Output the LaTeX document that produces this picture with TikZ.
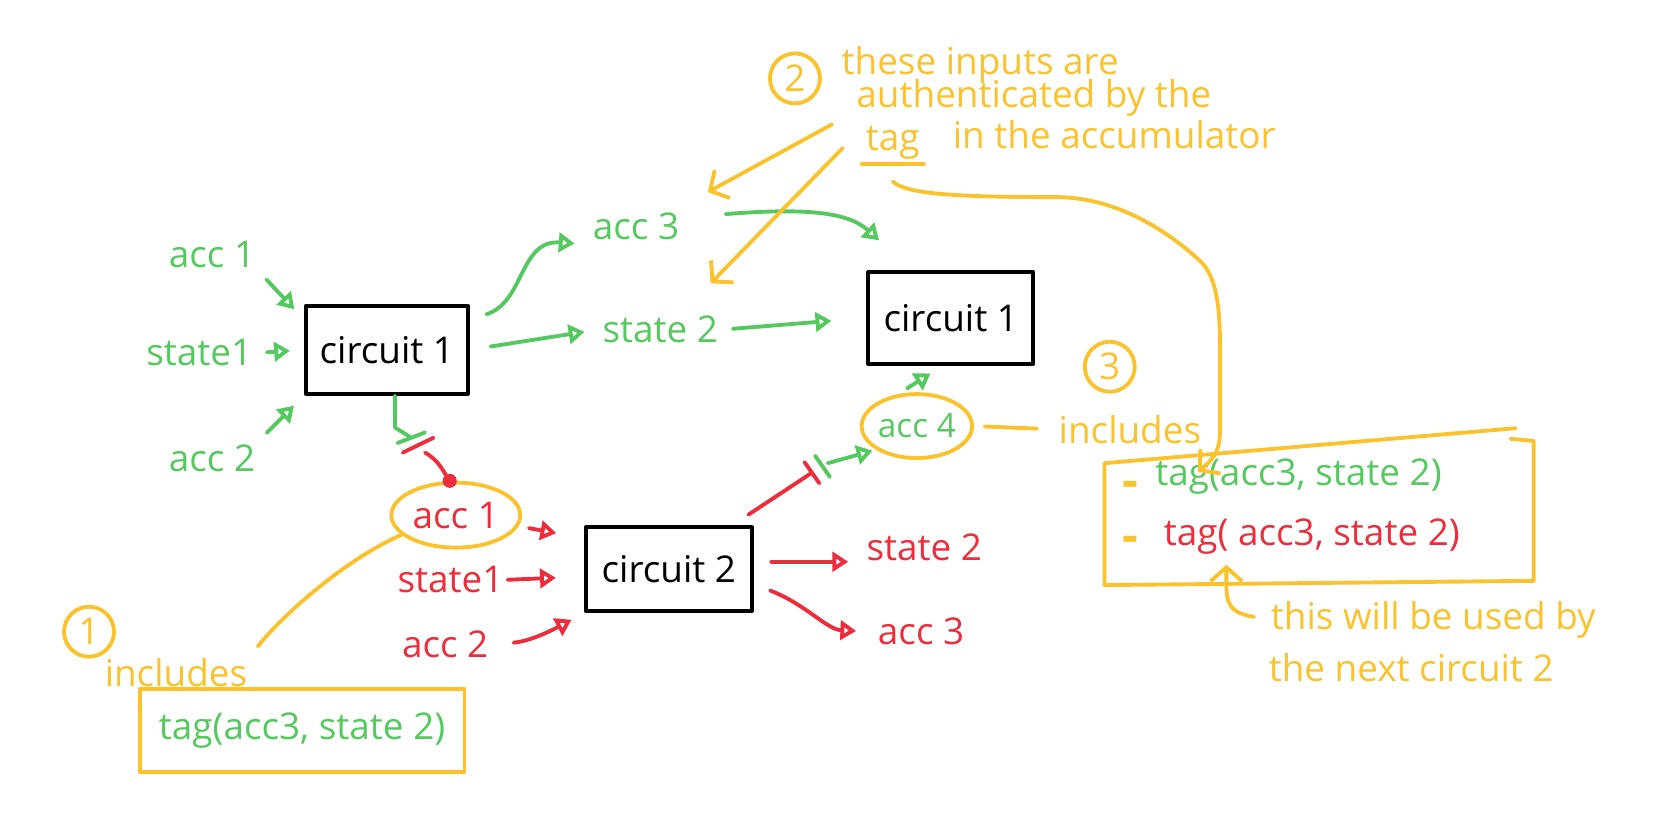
\documentclass[tikz,border=0pt]{standalone}
\usepackage{fontspec}
\setmainfont{Open Sans}
\usetikzlibrary{arrows.meta,shapes.geometric}
\definecolor{pgreen}{RGB}{85,200,95}
\definecolor{pred}{RGB}{235,45,60}
\definecolor{pyellow}{RGB}{250,195,45}
\begin{document}
\begin{tikzpicture}[x=0.0106cm,y=-0.0106cm,
  every node/.style={font=\fontsize{10.5}{12.6}\selectfont,inner sep=1pt},
  pen/.style={line width=1.1pt,line cap=round,line join=round},
  box/.style={draw,pen,minimum width=1.62cm,minimum height=0.88cm},
  bubble/.style={ellipse,draw=pyellow,pen,inner sep=0pt},
  num/.style={circle,draw=pyellow,pen,text=pyellow,minimum size=0.5cm,inner sep=0pt},
  bullet/.style={pyellow,font=\fontsize{14}{14}\selectfont\bfseries},
  garr/.style={pen,pgreen,-{Triangle[open,length=4.5pt,width=5.5pt]},shorten <=3pt,shorten >=4pt},
  rarr/.style={pen,pred,-{Triangle[open,length=4.5pt,width=5.5pt]},shorten <=3pt,shorten >=4pt},
  yarr/.style={pen,pyellow,-{Straight Barb[length=4pt,width=9pt]}},
  yline/.style={pen,pyellow}]
\useasboundingbox (0,0) rectangle (1568,774);

\node[box] (c1) at (365,330) {circuit 1};
\node[box,minimum width=1.65cm,minimum height=0.92cm] (c1b) at (897,300) {circuit 1};
\node[box,minimum width=1.66cm,minimum height=0.84cm] (c2) at (631,537) {circuit 2};

\node[pgreen] (gacc1) at (200,240) {acc 1};
\node[pgreen] (gst1) at (188,333) {state1};
\node[pgreen] (gacc2) at (200,432) {acc 2};
\node[pgreen] (gacc3) at (600,214) {acc 3};
\node[pgreen] (gst2) at (623,311) {state 2};
\node[bubble,text=pgreen,font=\fontsize{9.5}{11}\selectfont,minimum width=1.1cm,minimum height=0.64cm] (gacc4) at (865,402) {acc 4};

\node[bubble,text=pred,minimum width=1.29cm,minimum height=0.65cm] (racc1) at (430,486) {acc 1};
\node[pred] (rst1) at (425,547) {state1};
\node[pred] (racc2) at (420,608) {acc 2};
\node[pred] (rst2) at (872,516) {state 2};
\node[pred] (racc3) at (869,596) {acc 3};

\node[num] (n2) at (750,74) {2};
\node[pyellow,anchor=base west] (t1) at (790,70) {these inputs are};
\node[pyellow,anchor=base west] (t2) at (804,101) {authenticated by the};
\node[pyellow,anchor=base west] (ttag) at (813,142) {tag};
\node[pyellow,anchor=base west] (t3) at (895,140) {in the accumulator};
\node[num] (n3) at (1047,346) {3};
\node[pyellow] (incr) at (1066,405) {includes};
\node[bullet] (d1) at (1066,462) {-};
\node[pgreen,anchor=west] (tg) at (1086,450) {tag(acc3, state 2)};
\node[bullet] (d2) at (1066,514) {-};
\node[pred,anchor=west] (tr) at (1094,506) {tag( acc3, state 2)};
\node[pyellow,anchor=west] (u1) at (1195,585) {this will be used by};
\node[pyellow,anchor=west] (u2) at (1193,630) {the next circuit 2};

\node[num] (n1) at (84,596) {1};
\node[pyellow] (incl) at (166,635) {includes};
\node[draw=pyellow,pen,text=pgreen,minimum width=3.25cm,minimum height=0.83cm] (lbox) at (285,689) {tag(acc3, state 2)};

\draw[yline] (1430,404) -- (1042,437) -- (1042,552) -- (1447,548) -- (1447,416) -- (1425,414);

\draw[garr] (gacc1.south east) -- (c1.160);
\draw[garr] (gst1.east) -- (c1.west);
\draw[garr] (gacc2.north east) -- (c1.south west);
\draw[garr,shorten <=5pt] (c1.20) .. controls (495,285) and (490,226) .. (gacc3.south west);
\draw[garr,shorten <=6pt] (c1.east) -- (gst2.west);
\draw[garr,shorten <=0pt,shorten >=0pt] ([shift={(40,-12)}]gacc3.east) .. controls (760,196) and (800,200) .. ([shift={(12,-28)}]c1b.north west);
\draw[garr,shorten >=10pt] (gst2.east) -- (c1b.west);
\draw[garr] (gacc4.120) -- (c1b.-100);

\coordinate (cut1) at (388,413);
\draw[pen,pgreen] (c1.-80) -- ++(0,30) -- (cut1);
\draw[pen,pgreen] (cut1) +(-13,5) -- +(13,-5);
\draw[pen,pred] (cut1) +(-8,14) -- +(21,0);
\draw[pen,pred] (cut1) ++(13,14) .. controls (415,435) and (418,445) .. (racc1.100);
\fill[pred] (racc1.100) circle (2pt);

\draw[rarr,shorten >=8pt] (racc1.-10) -- (c2.160);
\draw[rarr,shorten >=8pt,shorten <=0pt] (rst1.east) -- (c2.185);
\draw[rarr,shorten <=6pt] (racc2.east) .. controls (500,605) and (520,595) .. (c2.south west);
\draw[rarr,shorten <=5pt] (c2.5) -- (c2.5 -| rst2.west);
\draw[rarr,shorten <=5pt,shorten >=5pt] (c2.-10) .. controls (760,570) and (780,594) .. (racc3.west);

\coordinate (cut2) at (766,446);
\draw[pen,pred] (c2.north east) ++(-5,-10) -- (cut2);
\draw[pen,pred] (cut2) +(-7,-10) -- +(7,10);
\draw[pen,pgreen] (cut2) +(3,-16) -- +(17,4);
\draw[garr,shorten <=0pt,shorten >=1pt] ([shift={(15,-9)}]cut2) -- (gacc4.210);

\draw[yarr] ([shift={(-19,4)}]t2.south west) -- ([shift={(23,-16)}]gacc3.north east);
\draw[yarr] ([shift={(-18,5)}]ttag.west) -- ([shift={(-11,-27)}]gst2.north east);
\draw[yline] (ttag.south west) -- (ttag.south east);
\draw[yarr] ([shift={(0,17)}]ttag.south) .. controls (855,183) and (900,186) .. (999,186) .. controls (1060,187) and (1110,225) .. (1134,248) .. controls (1150,265) and (1151,300) .. (1151,330) -- (1151,405) .. controls (1151,425) and (1146,432) .. ([shift={(44,16)}]tg.north west);
\draw[yarr] ([shift={(-12,-3)}]u1.west) .. controls (1160,578) and (1157,570) .. (1157,550) -- ([shift={(63,6)}]tr.south west);
\draw[yline,shorten <=3pt,shorten >=5pt] (gacc4.east) -- (incr.west);
\draw[yline,shorten <=3pt] (incl.north east) .. controls (265,582) and (325,528) .. (racc1.200);
\end{tikzpicture}
\end{document}
